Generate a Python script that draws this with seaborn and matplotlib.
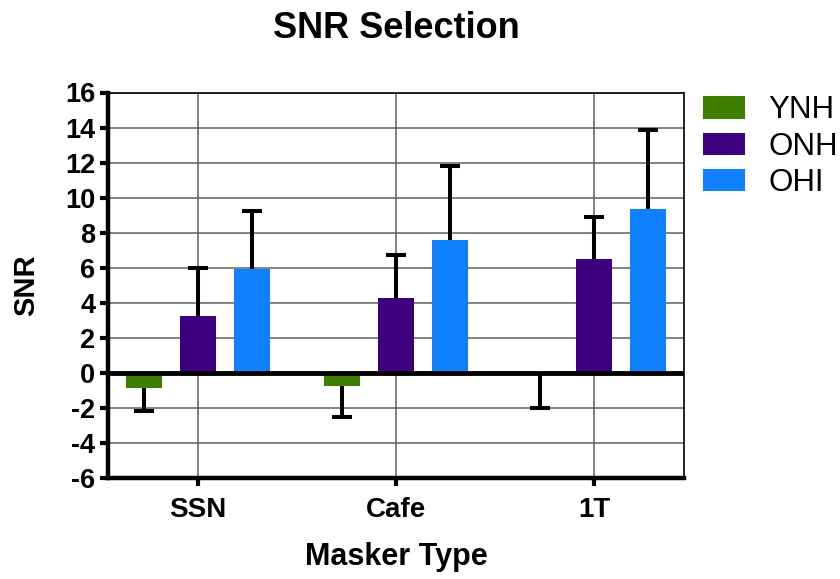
import numpy as np
import pandas as pd
import seaborn as sns
import matplotlib.pyplot as plt

maskers = ["SSN", "Cafe", "1T"]
groups = ["YNH", "ONH", "OHI"]
ynh_mean = [-0.86, -0.76, -0.05]
onh_mean = [3.23, 4.27, 6.47]
ohi_mean = [5.91, 7.61, 9.33]
ynh_err = [1.34, 1.74, 1.95]
onh_err = [2.76, 2.44, 2.42]
ohi_err = [3.32, 4.19, 4.54]
colors = ["#3f7f00", "#3f007f", "#1080ff"]

sns.set_style("white")
plt.rcParams['font.family'] = ['Liberation Sans', 'DejaVu Sans']
plt.rcParams['axes.unicode_minus'] = False
plt.rcParams['text.color'] = 'black'
plt.rcParams['axes.labelcolor'] = 'black'
plt.rcParams['xtick.color'] = 'black'
plt.rcParams['ytick.color'] = 'black'

df = pd.DataFrame({"Masker": maskers * 3,
                   "Group": np.repeat(groups, 3),
                   "SNR": ynh_mean + onh_mean + ohi_mean})

fig = plt.figure(figsize=(8.4, 5.79), dpi=100)
ax = fig.add_axes([108 / 840, 1 - 478 / 579, 576 / 840, 385.5 / 579])
sns.barplot(data=df, x="Masker", y="SNR", hue="Group", palette=colors, saturation=1,
            width=0.82, gap=0.33, errorbar=None, linewidth=0, zorder=3, ax=ax)

# one-sided error bars (away from zero)
for cont, errs in zip(ax.containers, [ynh_err, onh_err, ohi_err]):
    for bar, e in zip(cont, errs):
        x = bar.get_x() + bar.get_width() / 2
        y = bar.get_y() + bar.get_height()
        neg = bar.get_height() < 0
        yerr = [[e], [0]] if neg else [[0], [e]]
        _, caps, _ = ax.errorbar(x, y, yerr=yerr, color="black", lw=2.9,
                                 capsize=7.5, capthick=2.9, zorder=4)
        caps[1 if neg else 0].remove()

ax.axhline(0, color="black", lw=3.5, zorder=5)
ax.set_ylim(-6, 16)
ax.set_yticks(np.arange(-6, 17, 2))
ax.set_xlim(-0.4545, 2.4545)
ax.grid(True, color="#606060", lw=1.1)
ax.set_axisbelow(True)

for s in ["left", "bottom"]:
    ax.spines[s].set_linewidth(3.2)
for s in ["top", "right"]:
    ax.spines[s].set_linewidth(1.2)
for s in ax.spines.values():
    s.set_color("black")

ax.tick_params(axis="y", direction="out", length=6, width=3, labelsize=19.5, pad=3, left=True)
ax.tick_params(axis="x", direction="out", length=6, width=3, labelsize=20, pad=8, bottom=True)
for lbl in ax.get_xticklabels() + ax.get_yticklabels():
    lbl.set_fontweight("bold")

ax.set_title("SNR Selection", fontsize=26, fontweight="bold", pad=39)
ax.set_xlabel("Masker Type", fontsize=22, fontweight="bold")
ax.set_ylabel("SNR", fontsize=21, fontweight="bold")
ax.xaxis.set_label_coords(0.5, -0.165)
ax.yaxis.set_label_coords(-0.118, 0.5)

ax.legend(loc="upper left", bbox_to_anchor=(1.012, 1.025), frameon=False, fontsize=22.5,
          handlelength=1.34, handleheight=0.72, handletextpad=0.75,
          labelspacing=0.2, borderaxespad=0)

plt.savefig("out.png", dpi=100)
